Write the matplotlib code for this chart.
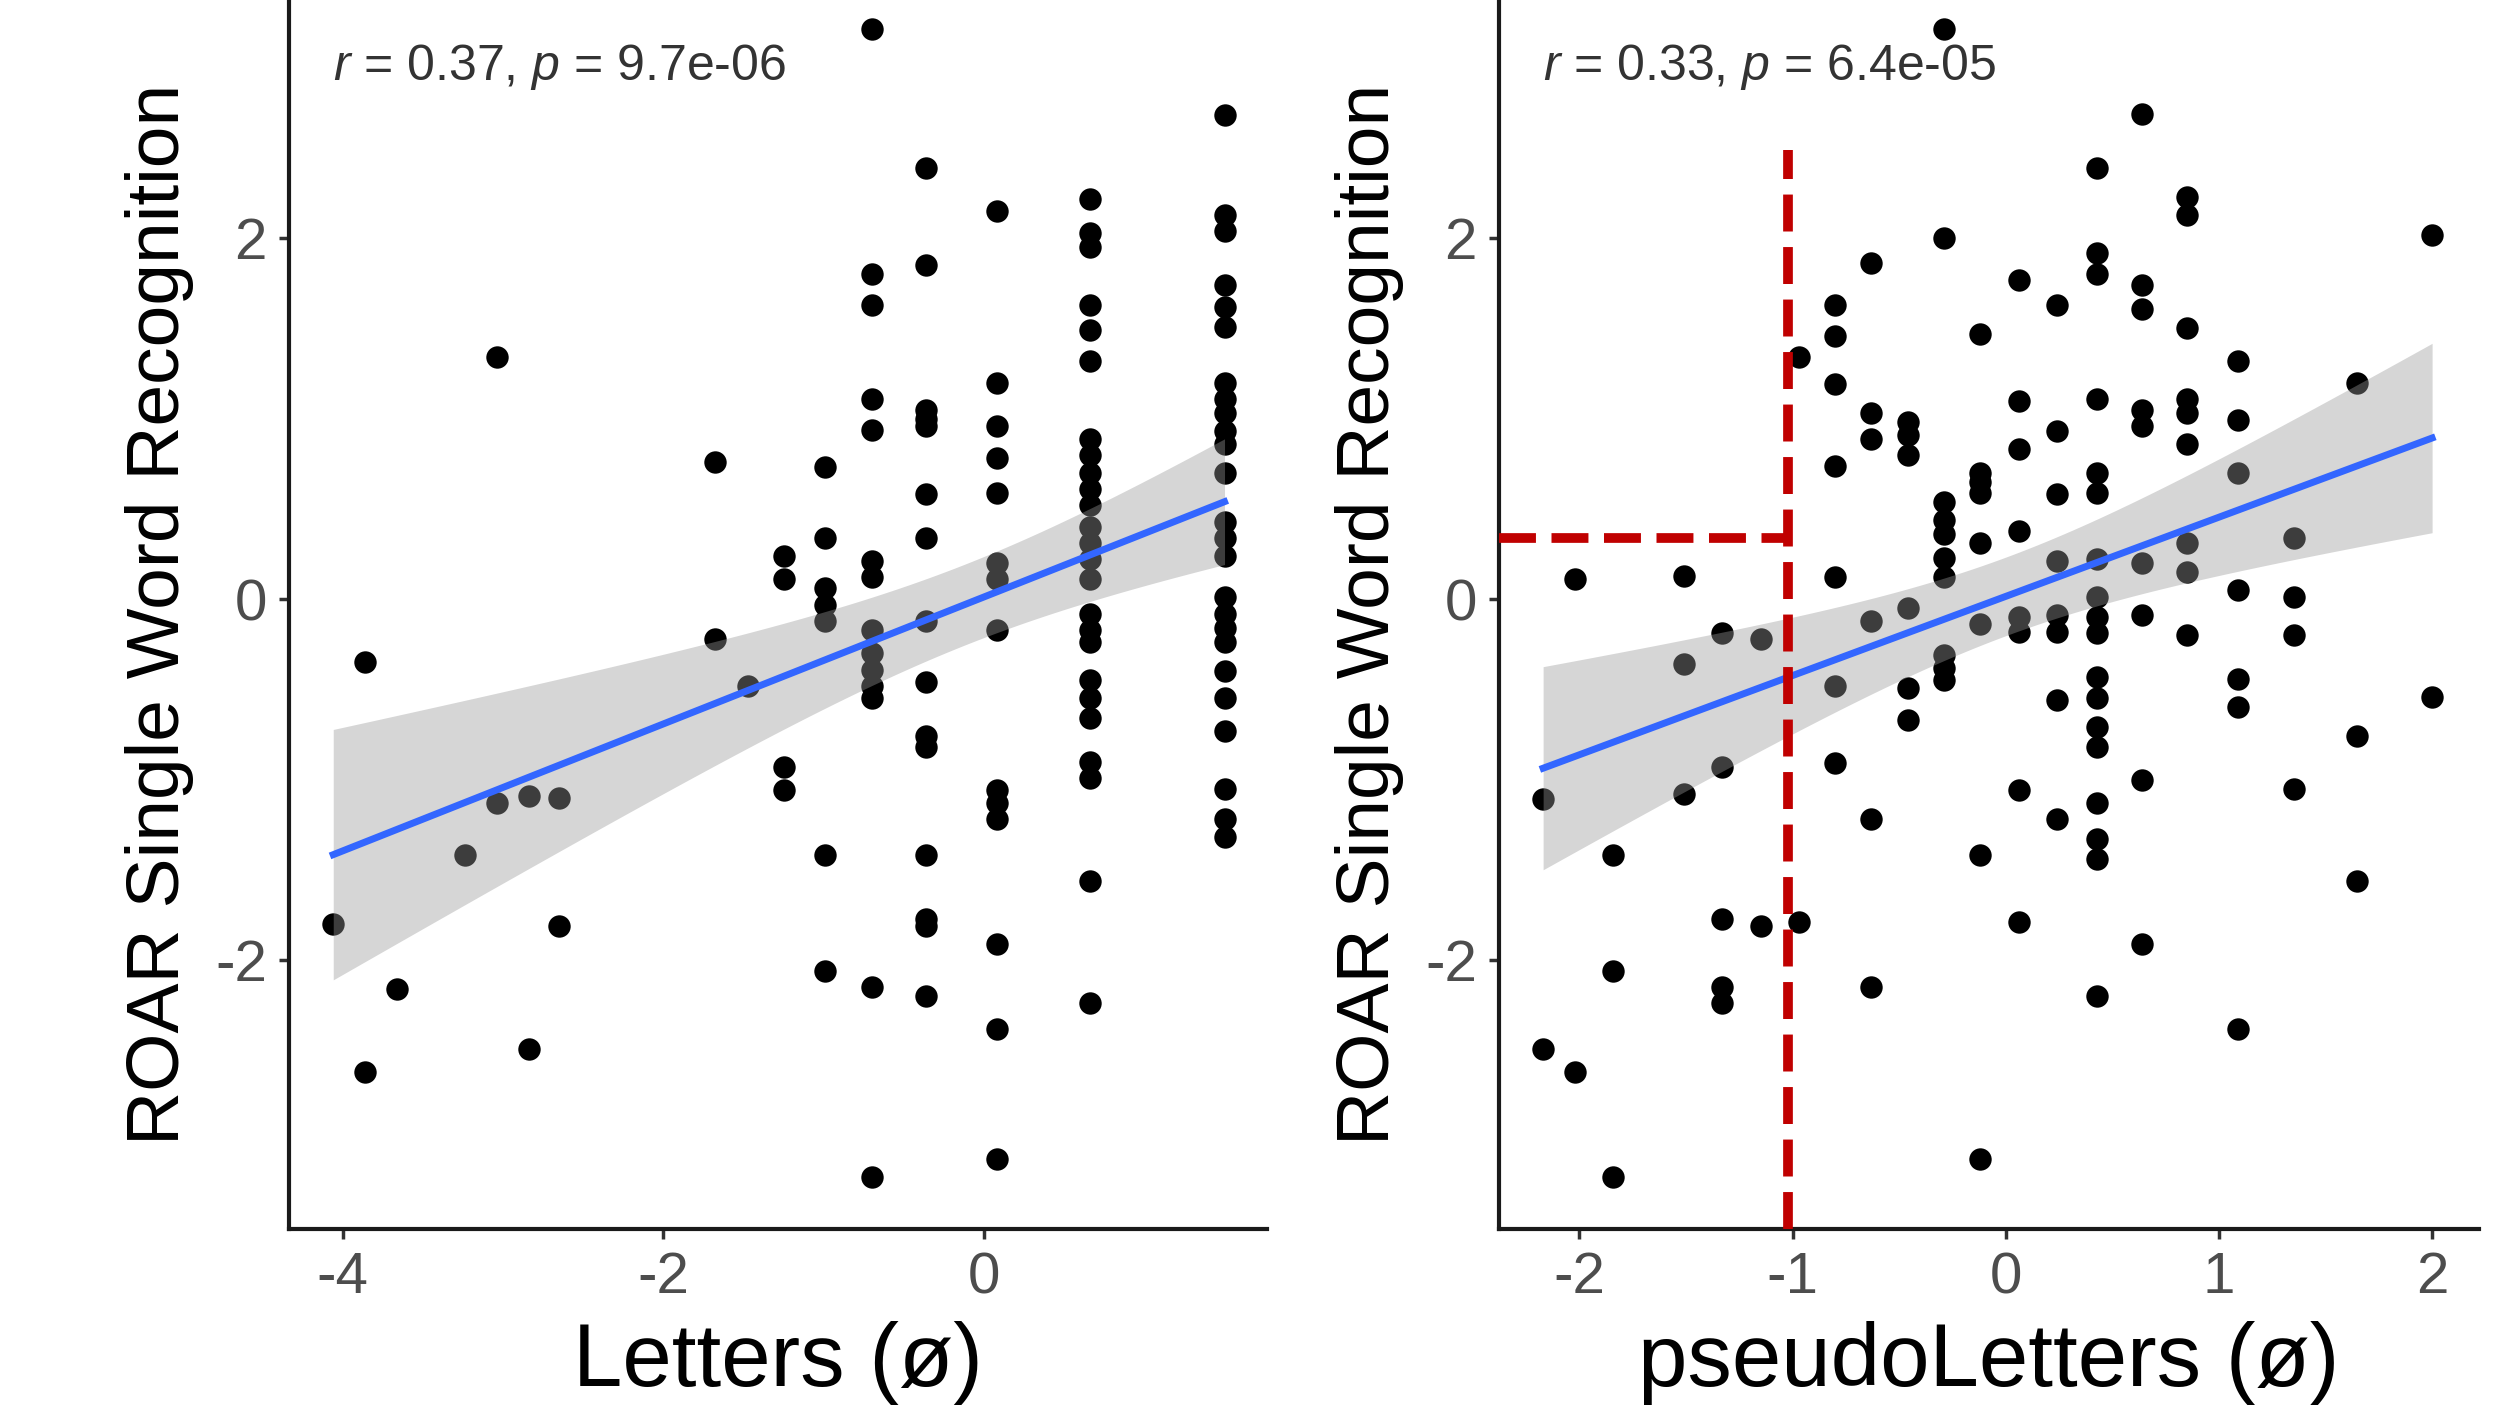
import numpy as np
import matplotlib.pyplot as plt

plt.rcParams['font.family'] = ['Liberation Sans', 'DejaVu Sans']
plt.rcParams['mathtext.fontset'] = 'custom'
plt.rcParams['mathtext.it'] = 'Liberation Sans:italic'
plt.rcParams['mathtext.rm'] = 'Liberation Sans'

# letters score levels (x) and ROAR scores (y) per level
letters_levels = [-4.06, -3.86, -3.66, -3.24, -3.04, -2.84, -2.65, -1.68,
                  -1.47, -1.25, -0.99, -0.70, -0.36, 0.08, 0.66, 1.50]
letters_roar = [
    [-1.80],
    [-0.35, -2.62],
    [-2.16],
    [-1.42],
    [1.34, -1.13],
    [-1.09, -2.49],
    [-1.10, -1.81],
    [0.76, -0.22],
    [-0.48],
    [0.24, 0.11, -0.93, -1.06],
    [0.73, 0.34, 0.06, -0.03, -0.12, -1.42, -2.06],
    [3.16, 1.80, 1.63, 1.11, 0.94, 0.21, 0.12, -0.17, -0.30, -0.39, -0.48,
     -0.55, -2.15, -3.20],
    [2.39, 1.85, 1.05, 1.00, 0.96, 0.58, 0.34, -0.12, -0.46, -0.76, -0.82,
     -1.42, -1.77, -1.81, -2.20],
    [2.15, 1.20, 0.96, 0.78, 0.59, 0.20, 0.11, -0.17, -1.06, -1.13, -1.22,
     -1.91, -2.38, -3.10],
    [2.22, 2.03, 1.95, 1.63, 1.49, 1.32, 0.89, 0.80, 0.70, 0.61, 0.52, 0.40,
     0.31, 0.22, 0.11, -0.08, -0.17, -0.24, -0.45, -0.55, -0.66, -0.90,
     -0.99, -1.56, -2.24],
    [2.68, 2.13, 2.04, 1.74, 1.62, 1.51, 1.20, 1.11, 1.03, 0.93, 0.86, 0.70,
     0.43, 0.34, 0.24, 0.01, -0.08, -0.16, -0.24, -0.40, -0.55, -0.73,
     -1.05, -1.22, -1.32],
]

pseudo_levels = [-2.17, -2.02, -1.84, -1.51, -1.33, -1.15, -0.97, -0.80,
                 -0.63, -0.46, -0.29, -0.12, 0.06, 0.24, 0.43, 0.64, 0.85,
                 1.09, 1.35, 1.65, 2.00]
pseudo_roar = [
    [-1.11, -2.49],
    [0.11, -2.62],
    [-1.42, -2.06, -3.20],
    [0.13, -0.36, -1.08],
    [-0.19, -0.93, -1.77, -2.15, -2.24],
    [-0.22, -1.81],
    [1.34, -1.79],
    [1.63, 1.46, 1.19, 0.74, 0.12, -0.48, -0.91],
    [1.86, 1.03, 0.89, -0.12, -1.22, -2.15],
    [0.98, 0.91, 0.80, -0.05, -0.49, -0.67],
    [3.16, 2.00, 0.54, 0.44, 0.36, 0.23, 0.12, -0.31, -0.38, -0.45],
    [1.47, 0.70, 0.65, 0.59, 0.31, -0.14, -1.42, -3.10],
    [1.77, 1.10, 0.83, 0.38, -0.10, -0.18, -1.06, -1.79],
    [1.63, 0.93, 0.58, 0.21, -0.09, -0.18, -0.56, -1.22],
    [2.39, 1.92, 1.80, 1.11, 0.70, 0.59, 0.22, 0.01, -0.10, -0.19, -0.43,
     -0.55, -0.71, -0.82, -1.13, -1.33, -1.44, -2.20],
    [2.69, 1.74, 1.61, 1.05, 0.96, 0.20, -0.09, -1.00, -1.91],
    [2.23, 2.13, 1.50, 1.11, 1.03, 0.86, 0.31, 0.15, -0.20],
    [1.32, 0.99, 0.70, 0.05, -0.44, -0.60, -2.38],
    [0.34, 0.01, -0.20, -1.05],
    [1.20, -0.76, -1.56],
    [2.02, -0.54],
]

stats_labels = [r'$\it{r}$ = 0.37, $\it{p}$ = 9.7e-06',
                r'$\it{r}$ = 0.33, $\it{p}$ = 6.4e-05']
x_titles = ['Letters (ø)', 'pseudoLetters (ø)']
y_title = 'ROAR Single Word Recognition'
x_ticks = [[-4, -2, 0], [-2, -1, 0, 1, 2]]

# cut-off guide on the pseudoletters panel
cut_x = -1.02
cut_y = 0.34
cut_top = 2.49


def flatten(levels, groups):
    xs, ys = [], []
    for lv, g in zip(levels, groups):
        xs += [lv] * len(g)
        ys += g
    return np.array(xs), np.array(ys)


def lm_band(x, y, n_grid=100, tcrit=1.98):
    b1, b0 = np.polyfit(x, y, 1)
    n = len(x)
    resid = y - (b0 + b1 * x)
    s = np.sqrt(np.sum(resid ** 2) / (n - 2))
    sxx = np.sum((x - x.mean()) ** 2)
    g = np.linspace(x.min(), x.max(), n_grid)
    fit = b0 + b1 * g
    se = s * np.sqrt(1 / n + (g - x.mean()) ** 2 / sxx)
    return g, fit, fit - tcrit * se, fit + tcrit * se


fig = plt.figure(figsize=(25, 14.18), dpi=100)
ax1 = fig.add_axes([0.1156, 0.1333, 0.3912, 0.8667])
ax2 = fig.add_axes([0.5996, 0.1333, 0.3920, 0.8667])

panels = [(ax1, letters_levels, letters_roar, (-4.336, 1.765)),
          (ax2, pseudo_levels, pseudo_roar, (-2.377, 2.22))]

for i, (ax, lv, grp, xl) in enumerate(panels):
    x, y = flatten(lv, grp)
    ax.scatter(x, y, s=260, color='black', linewidths=0, zorder=2)
    g, fit, lo, hi = lm_band(x, y)
    ax.fill_between(g, lo, hi, color='#999999', alpha=0.4, linewidth=0, zorder=3)
    ax.plot(g, fit, color='#3366FF', lw=5, zorder=4)

    ax.text(x.min(), 2.95, stats_labels[i], fontsize=36, color='#333333',
            ha='left', va='center', zorder=5)

    ax.set_xlim(*xl)
    ax.set_ylim(-3.49, 3.32)
    ax.set_xticks(x_ticks[i])
    ax.set_yticks([-2, 0, 2])
    ax.set_xticklabels([str(t) for t in x_ticks[i]])
    ax.set_yticklabels(['-2', '0', '2'])
    for side in ['top', 'right']:
        ax.spines[side].set_visible(False)
    for side in ['left', 'bottom']:
        ax.spines[side].set_linewidth(3)
        ax.spines[side].set_color('#1a1a1a')
    ax.tick_params(labelsize=42, labelcolor='#4D4D4D', color='#333333',
                   length=7, width=2.5, pad=9)
    ax.set_xlabel(x_titles[i], fontsize=64)
    ax.set_ylabel(y_title, fontsize=54)
    ax.xaxis.set_label_coords(0.5, -0.075)
    ax.yaxis.set_label_coords(-0.097, 0.5)

# dashed cut-off lines
y0 = ax2.get_ylim()[0]
x0 = ax2.get_xlim()[0]
ax2.plot([cut_x, cut_x], [y0, cut_top], color='#C00000', lw=7,
         dashes=(3.8, 1.6), zorder=6, clip_on=False)
ax2.plot([x0, cut_x], [cut_y, cut_y], color='#C00000', lw=7,
         dashes=(3.8, 1.6), zorder=6, clip_on=False)

fig.savefig('out.png', dpi=100, facecolor='white')
